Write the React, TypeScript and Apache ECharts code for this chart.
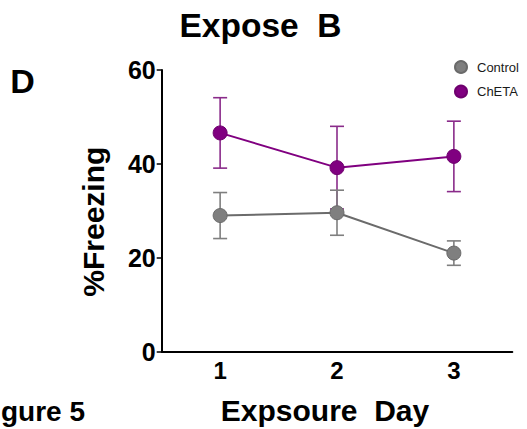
import React, { useEffect, useRef } from "react";
import * as echarts from "echarts";

// ---- data ----
const days = ["1", "2", "3"];
const controlMean = [29.0, 29.6, 21.0];
const controlErr = [4.9, 4.8, 2.6];
const chetaMean = [46.6, 39.2, 41.6];
const chetaErr = [7.5, 8.8, 7.5];
const yMin = 0;
const yMax = 60;
const yInterval = 20;

const FONT = '"Liberation Sans", Arial, Helvetica, sans-serif';

const CONTROL_FILL = "#7f7f7f";
const CONTROL_LINE = "#6b6b6b";
const CHETA_FILL = "#800080";
const CHETA_ERR = "#8a2b8a";

function errorSeries(name: string, mean: number[], err: number[], color: string) {
  return {
    type: "custom",
    name,
    silent: true,
    data: mean.map((m, i) => [i, m - err[i], m + err[i]]),
    renderItem: (_params: any, api: any) => {
      const lo = api.coord([api.value(0), api.value(1)]);
      const hi = api.coord([api.value(0), api.value(2)]);
      const half = 7;
      const style = { stroke: color, lineWidth: 1.6 };
      return {
        type: "group",
        children: [
          { type: "line", shape: { x1: hi[0], y1: hi[1], x2: lo[0], y2: lo[1] }, style },
          { type: "line", shape: { x1: hi[0] - half, y1: hi[1], x2: hi[0] + half, y2: hi[1] }, style },
          { type: "line", shape: { x1: lo[0] - half, y1: lo[1], x2: lo[0] + half, y2: lo[1] }, style },
        ],
      };
    },
  };
}

export default function App() {
  const ref = useRef<HTMLDivElement>(null);

  useEffect(() => {
    if (!ref.current) return;
    const chart = echarts.init(ref.current, undefined, { renderer: "svg" });
    const boldText = (text: string, x: number, y: number, size: number, extra: any = {}) => ({
      type: "text",
      x,
      y,
      ...extra,
      style: {
        text,
        fontFamily: FONT,
        fontSize: size,
        fontWeight: "bold",
        fill: "#000",
        align: extra.align || "center",
        verticalAlign: "middle",
      },
    });
    chart.setOption({
      animation: false,
      backgroundColor: "#fff",
      grid: { left: 161.7, right: 14.7, top: 70, bottom: 77.3, containLabel: false },
      legend: {
        data: [
          { name: "Control", icon: "circle" },
          { name: "ChETA", icon: "circle" },
        ],
        orient: "vertical",
        left: 454,
        top: 60,
        padding: 0,
        itemWidth: 22,
        itemHeight: 12,
        itemGap: 10.5,
        selectedMode: false,
        textStyle: { fontFamily: FONT, fontSize: 13, color: "#1a1a1a" },
      },
      xAxis: {
        type: "category",
        data: days,
        boundaryGap: true,
        axisLine: { lineStyle: { color: "#000", width: 2 } },
        axisTick: { alignWithLabel: true, length: 4, lineStyle: { color: "#000", width: 1.5 } },
        axisLabel: { fontFamily: FONT, fontSize: 24, fontWeight: "bold", color: "#000", margin: 7 },
        splitLine: { show: false },
      },
      yAxis: {
        type: "value",
        min: yMin,
        max: yMax,
        interval: yInterval,
        axisLine: { show: true, lineStyle: { color: "#000", width: 2 } },
        axisTick: { show: true, length: 5, lineStyle: { color: "#000", width: 1.5 } },
        axisLabel: { fontFamily: FONT, fontSize: 25, fontWeight: "bold", color: "#000", margin: 6 },
        splitLine: { show: false },
      },
      series: [
        errorSeries("ChETA SEM", chetaMean, chetaErr, CHETA_ERR),
        {
          type: "line",
          name: "ChETA",
          data: chetaMean,
          symbol: "circle",
          symbolSize: 14,
          lineStyle: { color: CHETA_FILL, width: 2 },
          itemStyle: { color: CHETA_FILL, borderColor: "#6e006e", borderWidth: 1 },
        },
        errorSeries("Control SEM", controlMean, controlErr, CONTROL_FILL),
        {
          type: "line",
          name: "Control",
          data: controlMean,
          symbol: "circle",
          symbolSize: 14,
          lineStyle: { color: CONTROL_LINE, width: 2 },
          itemStyle: { color: CONTROL_FILL, borderColor: "#6a6a6a", borderWidth: 1 },
        },
      ],
      graphic: [
        boldText("Expose  B", 260.5, 25, 33.5),
        boldText("D", 22.5, 81, 34),
        boldText("%Freezing", 93.5, 221.7, 30, { rotation: Math.PI / 2 }),
        boldText("Expsoure  Day", 325, 410.5, 30),
        boldText("gure 5", 1, 411, 28, { align: "left" }),
      ],
    });
    return () => chart.dispose();
  }, []);

  return (
    <div
      ref={ref}
      style={{ position: "fixed", left: 0, top: 0, width: 527, height: 429, background: "#fff" }}
    />
  );
}
